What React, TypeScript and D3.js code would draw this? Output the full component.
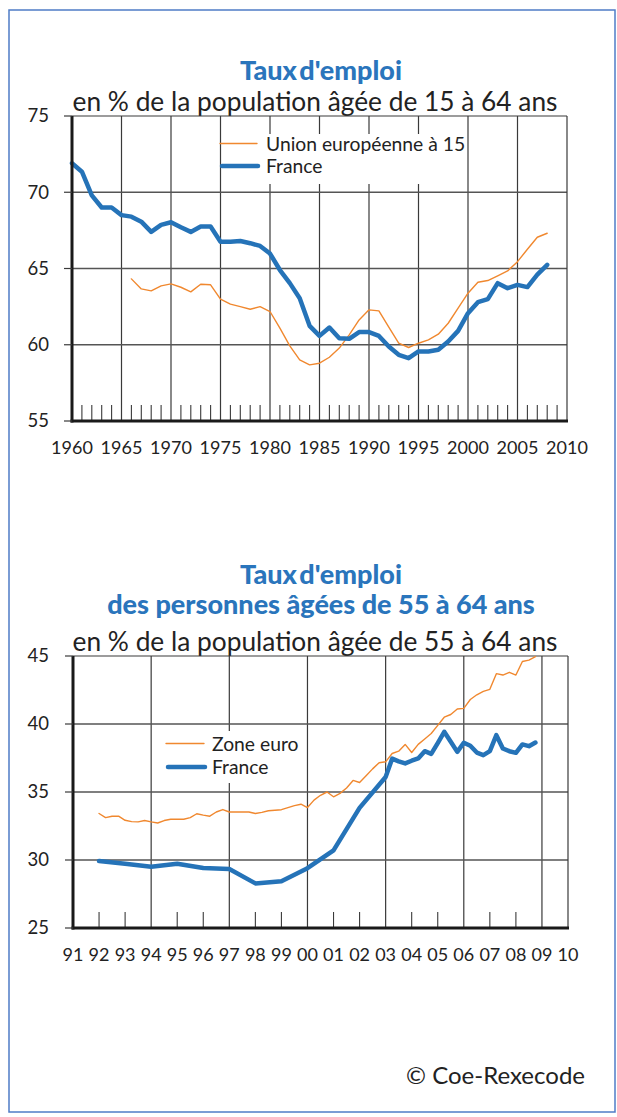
import React, { useEffect, useRef } from 'react';
import * as d3 from 'd3';

const FONT = 'Lato, "Open Sans", sans-serif';
const BLUE = '#2573b8';
const ORANGE = '#f0882f';
const TITLE_BLUE = '#2a75bc';
const INK = '#222';

// graphique 1 : taux d'emploi 15-64 ans, annuel
const france1Start = 1960;
const france1 = [71.9, 71.35, 69.8, 69.0, 69.0, 68.5, 68.4, 68.07, 67.4, 67.86,
  68.03, 67.7, 67.4, 67.75, 67.75, 66.76, 66.76, 66.8, 66.66, 66.48,
  65.98, 64.9, 64.04, 63.05, 61.24, 60.58, 61.13, 60.43, 60.39, 60.83,
  60.83, 60.58, 59.88, 59.34, 59.12, 59.56, 59.56, 59.67, 60.21, 60.91,
  62.07, 62.79, 62.99, 64.04, 63.71, 63.93, 63.78, 64.6, 65.24];
const ue15Start = 1966;
const ue15 = [64.32, 63.66, 63.53, 63.86, 63.99, 63.77, 63.47, 63.97, 63.93, 62.99,
  62.66, 62.5, 62.33, 62.5, 62.18, 61.09, 59.93, 59.01, 58.68, 58.79,
  59.18, 59.78, 60.65, 61.63, 62.29, 62.22, 61.15, 60.1, 59.82, 60.1,
  60.32, 60.69, 61.41, 62.4, 63.38, 64.1, 64.21, 64.52, 64.84, 65.45,
  66.26, 67.05, 67.31];
const xLabels1 = ['1960', '1965', '1970', '1975', '1980', '1985', '1990', '1995', '2000', '2005', '2010'];
const yTicks1 = [55, 60, 65, 70, 75];

// graphique 2 : taux d'emploi 55-64 ans
const xLabels2 = ['91', '92', '93', '94', '95', '96', '97', '98', '99', '00',
  '01', '02', '03', '04', '05', '06', '07', '08', '09', '10'];
const yTicks2 = [25, 30, 35, 40, 45];
const zoneEuroStart = 1992; // trimestriel
const zoneEuro = [33.42, 33.12, 33.22, 33.22, 32.92, 32.82, 32.8, 32.9,
  32.8, 32.72, 32.9, 33.0, 33.0, 33.0, 33.12, 33.4,
  33.3, 33.22, 33.53, 33.71, 33.53, 33.53, 33.53, 33.53,
  33.42, 33.5, 33.62, 33.66, 33.7, 33.85, 34.0, 34.1,
  33.86, 34.4, 34.76, 35.0, 34.65, 34.9, 35.3, 35.85,
  35.7, 36.2, 36.7, 37.15, 37.22, 37.83, 38.0, 38.5,
  37.9, 38.5, 38.9, 39.3, 39.9, 40.5, 40.7, 41.1,
  41.15, 41.8, 42.15, 42.4, 42.55, 43.7, 43.6, 43.8,
  43.6, 44.6, 44.7, 44.95];
const franceAnnualStart = 1992; // annuel jusqu'en 2002
const franceAnnual = [29.92, 29.73, 29.5, 29.73, 29.41, 29.34, 28.28, 28.44, 29.4, 30.71, 33.83];
const franceQuarterlyStart = 2003; // puis trimestriel
const franceQuarterly = [36.1, 37.45, 37.25, 37.1, 37.3, 37.47, 38.0, 37.8,
  38.6, 39.43, 38.7, 37.95, 38.62, 38.4, 37.9, 37.71,
  38.0, 39.18, 38.2, 38.0, 37.88, 38.5, 38.37, 38.64];

type Pt = [number, number];

function drawPanel(svg: any, o: any) {
  const { x, y } = o;
  const [xa, xb] = x.domain();
  const [ya, yb] = y.domain();
  const g = svg.append('g');

  // grille
  g.selectAll('.vg').data(o.gridX).enter().append('line')
    .attr('x1', (d: number) => x(d)).attr('x2', (d: number) => x(d))
    .attr('y1', y(yb)).attr('y2', y(ya))
    .attr('stroke', '#3a3a3a').attr('stroke-width', 1.2);
  g.selectAll('.hg').data(o.gridY).enter().append('line')
    .attr('x1', x(xa)).attr('x2', x(xb))
    .attr('y1', (d: number) => y(d)).attr('y2', (d: number) => y(d))
    .attr('stroke', '#555').attr('stroke-width', 1.5);
  // cadre haut / droite
  g.append('line').attr('x1', x(xa)).attr('x2', x(xb)).attr('y1', y(yb)).attr('y2', y(yb))
    .attr('stroke', '#3a3a3a').attr('stroke-width', 1.2);
  g.append('line').attr('x1', x(xb)).attr('x2', x(xb)).attr('y1', y(yb)).attr('y2', y(ya))
    .attr('stroke', '#3a3a3a').attr('stroke-width', 1.2);
  // petites graduations
  g.selectAll('.mt').data(o.minorX).enter().append('line')
    .attr('x1', (d: number) => x(d)).attr('x2', (d: number) => x(d))
    .attr('y1', y(ya) - 16).attr('y2', y(ya))
    .attr('stroke', '#3a3a3a').attr('stroke-width', 1.1);

  // fond de la légende
  g.append('rect').attr('x', o.mask[0]).attr('y', o.mask[1])
    .attr('width', o.mask[2]).attr('height', o.mask[3]).attr('fill', '#fff');

  // courbes
  const line = d3.line<Pt>().x(d => x(d[0])).y(d => y(d[1]));
  o.series.forEach((s: any) => {
    g.append('path').datum(s.points).attr('d', line)
      .attr('fill', 'none').attr('stroke', s.color).attr('stroke-width', s.width)
      .attr('stroke-linejoin', 'round').attr('stroke-linecap', 'round');
  });

  // axes épais
  g.append('line').attr('x1', x(xa)).attr('x2', x(xa)).attr('y1', y(yb)).attr('y2', y(ya) + 1.5)
    .attr('stroke', '#1a1a1a').attr('stroke-width', 3);
  g.append('line').attr('x1', x(xa) - 1.5).attr('x2', x(xb) + 1).attr('y1', y(ya)).attr('y2', y(ya))
    .attr('stroke', '#1a1a1a').attr('stroke-width', 3);

  // graduations y
  g.selectAll('.yt').data(o.yTicks).enter().append('line')
    .attr('x1', x(xa) - 8).attr('x2', x(xa))
    .attr('y1', (d: number) => y(d)).attr('y2', (d: number) => y(d))
    .attr('stroke', '#3a3a3a').attr('stroke-width', 1.2);
  g.selectAll('.yl').data(o.yTicks).enter().append('text')
    .attr('x', 49).attr('y', (d: number) => y(d)).attr('dy', '0.35em')
    .attr('text-anchor', 'end').attr('font-family', FONT).attr('font-size', 18.5)
    .attr('fill', INK).text((d: number) => d);

  // libellés x
  g.selectAll('.xl').data(o.xLabels).enter().append('text')
    .attr('x', (d: string, i: number) => x(o.xLabelPos[i])).attr('y', o.xLabelY)
    .attr('text-anchor', 'middle').attr('font-family', FONT).attr('font-size', 18)
    .attr('fill', INK).text((d: string) => d);

  // légende
  o.legend.forEach((l: any) => {
    g.append('line').attr('x1', l.x1).attr('x2', l.x2).attr('y1', l.y).attr('y2', l.y)
      .attr('stroke', l.color).attr('stroke-width', l.width).attr('stroke-linecap', 'round');
    g.append('text').attr('x', l.tx).attr('y', l.y + 7).attr('font-family', FONT)
      .attr('font-size', 19.3).attr('fill', INK).text(l.label);
  });
}

export default function App() {
  const ref = useRef<SVGSVGElement>(null);

  useEffect(() => {
    const svg = d3.select(ref.current);
    svg.selectAll('*').remove();

    svg.append('rect').attr('width', 617).attr('height', 1117).attr('fill', '#fff');
    svg.append('rect').attr('x', 9).attr('y', 10).attr('width', 606).attr('height', 1102)
      .attr('fill', 'none').attr('stroke', '#4f7cc6').attr('stroke-width', 1.5);

    // titres
    const title = (txt: string, yy: number, ws: number) => svg.append('text').attr('x', 321).attr('y', yy)
      .attr('text-anchor', 'middle').attr('font-family', FONT).attr('font-weight', 900)
      .attr('font-size', 27).attr('word-spacing', ws).attr('fill', TITLE_BLUE).text(txt);
    const sub = (txt: string, yy: number) => svg.append('text').attr('x', 315).attr('y', yy)
      .attr('text-anchor', 'middle').attr('font-family', FONT)
      .attr('font-size', 26.3).attr('fill', INK).text(txt);

    title("Taux d'emploi", 80, -4);
    sub('en % de la population âgée de 15 à 64 ans', 111);
    title("Taux d'emploi", 584, -4);
    title('des personnes âgées de 55 à 64 ans', 614, 0);
    sub('en % de la population âgée de 55 à 64 ans', 651);

    // graphique 1
    const x1 = d3.scaleLinear().domain([1960, 2010]).range([72, 567]);
    const y1 = d3.scaleLinear().domain([55, 75]).range([421, 116]);
    drawPanel(svg, {
      x: x1, y: y1,
      gridX: d3.range(1965, 2010, 5),
      gridY: [60, 65, 70],
      minorX: d3.range(1961, 2010).filter(v => v % 5 !== 0),
      yTicks: yTicks1,
      xLabels: xLabels1,
      xLabelPos: xLabels1.map(Number),
      xLabelY: 454,
      mask: [222, 134, 244, 50],
      series: [
        { color: ORANGE, width: 1.4, points: ue15.map((v, i) => [ue15Start + i, v]) },
        { color: BLUE, width: 4.5, points: france1.map((v, i) => [france1Start + i, v]) },
      ],
      legend: [
        { x1: 220, x2: 257, y: 143.5, tx: 266, color: ORANGE, width: 1.4, label: 'Union européenne à 15' },
        { x1: 222, x2: 258, y: 166, tx: 266, color: BLUE, width: 4.5, label: 'France' },
      ],
    });

    // graphique 2
    const x2 = d3.scaleLinear().domain([1991, 2010]).range([73, 568]);
    const y2 = d3.scaleLinear().domain([25, 45]).range([928, 656]);
    const france2: Pt[] = [
      ...franceAnnual.map((v, i) => [franceAnnualStart + i, v] as Pt),
      ...franceQuarterly.map((v, i) => [franceQuarterlyStart + i / 4, v] as Pt),
    ];
    drawPanel(svg, {
      x: x2, y: y2,
      gridX: [1994, 1997, 2000, 2003, 2006, 2009],
      gridY: [30, 35, 40],
      minorX: d3.range(1992, 2009).filter(v => (v - 1991) % 3 !== 0),
      yTicks: yTicks2,
      xLabels: xLabels2,
      xLabelPos: xLabels2.map((d, i) => 1991 + i),
      xLabelY: 961,
      mask: [160, 731, 140, 52],
      series: [
        { color: ORANGE, width: 1.4, points: zoneEuro.map((v, i) => [zoneEuroStart + i / 4, v]) },
        { color: BLUE, width: 4.5, points: france2 },
      ],
      legend: [
        { x1: 166, x2: 204, y: 743.5, tx: 212, color: ORANGE, width: 1.4, label: 'Zone euro' },
        { x1: 168, x2: 205, y: 767, tx: 212, color: BLUE, width: 4.5, label: 'France' },
      ],
    });

    svg.append('text').attr('x', 585).attr('y', 1084).attr('text-anchor', 'end')
      .attr('font-family', FONT).attr('font-size', 24).attr('fill', INK).text('© Coe-Rexecode');
  }, []);

  return (
    <div style={{ position: 'fixed', left: 0, top: 0, width: 617, height: 1117, background: '#fff' }}>
      <svg ref={ref} width={617} height={1117} style={{ display: 'block' }} />
    </div>
  );
}
